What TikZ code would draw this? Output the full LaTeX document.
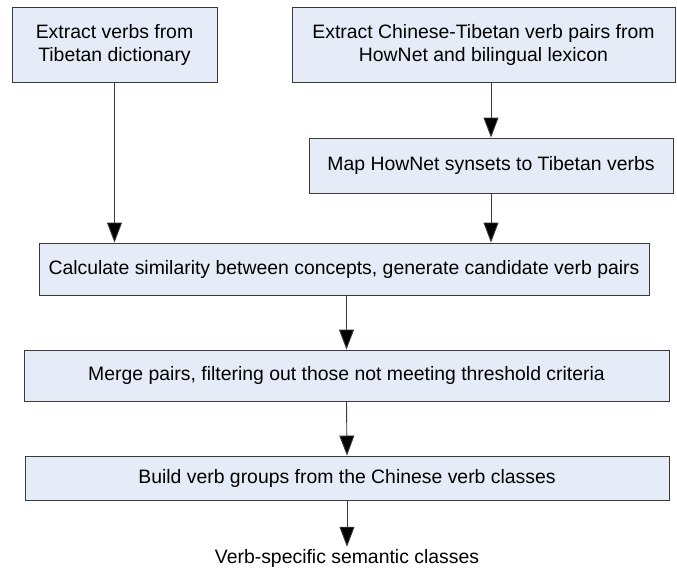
\documentclass[tikz,border=0pt]{standalone}
\usepackage{fontspec}
\setmainfont{Liberation Sans}
\usetikzlibrary{arrows.meta,calc}
\definecolor{boxfill}{HTML}{E6ECF7}
\definecolor{edge}{HTML}{3A3A3A}
\tikzset{
  stepbox/.style={draw=edge, line width=0.9pt, fill=boxfill, align=center,
    inner sep=0pt, font=\fontsize{19.4}{23}\selectfont},
  arr/.style={draw=edge, line width=0.9pt, -{Triangle[width=15pt,length=20pt,fill=black]}},
}
\begin{document}
\begin{tikzpicture}[x=1pt,y=-1pt]
\useasboundingbox (0,0) rectangle (677,571);
\node[stepbox, minimum width=205pt, minimum height=75pt] (b1) at (114.5,44.5)
  {Extract verbs from\\Tibetan dictionary};
\node[stepbox, minimum width=383pt, minimum height=75pt] (b2) at (483.5,44.5)
  {Extract Chinese-Tibetan verb pairs from\\HowNet and bilingual lexicon};
\node[stepbox, minimum width=364pt, minimum height=55pt] (b3) at (491,165.5)
  {Map HowNet synsets to Tibetan verbs};
\node[stepbox, minimum width=610pt, minimum height=52pt] (b4) at (344,269)
  {Calculate similarity between concepts, generate candidate verb pairs};
\node[stepbox, minimum width=645pt, minimum height=51pt] (b5) at (346.5,375.5)
  {Merge pairs, filtering out those not meeting threshold criteria};
\node[stepbox, minimum width=644pt, minimum height=44pt] (b6) at (347,478)
  {Build verb groups from the Chinese verb classes};
\node[font=\fontsize{19.4}{23}\selectfont, inner sep=2pt] (out) at (347,558)
  {Verb-specific semantic classes};

\draw[arr] (b1.south) -- (b1.south |- b4.north);
\draw[arr] (b3.north |- b2.south) -- (b3.north);
\draw[arr] (b3.south) -- (b3.south |- b4.north);
\draw[arr] (b5.north |- b4.south) -- (b5.north);
\draw[arr] (b5.south) -- (b6.north);
\draw[arr] (b6.south) -- (out.north);
\end{tikzpicture}
\end{document}
